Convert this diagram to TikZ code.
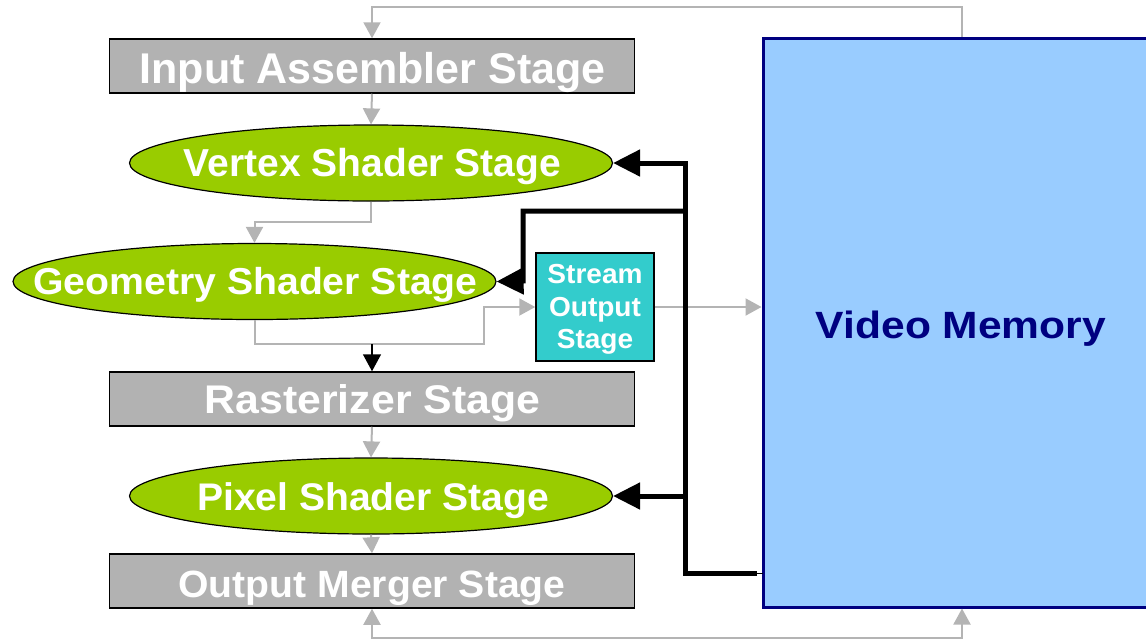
\documentclass[tikz,border=0pt]{standalone}
\usepackage{fontspec}
\setmainfont{Liberation Sans}
\usetikzlibrary{arrows.meta,shapes.geometric}
\definecolor{boxgray}{HTML}{B2B2B2}
\definecolor{linegray}{HTML}{B4B4B4}
\definecolor{shadergreen}{HTML}{99CC00}
\definecolor{streamteal}{HTML}{33CCCC}
\definecolor{memblue}{HTML}{99CCFF}
\definecolor{memnavy}{HTML}{000080}
% label text: size in pt, horizontal stretch, text
\newcommand{\stagetext}[3]{\fontsize{#1}{#1}\selectfont\scalebox{#2}[1]{#3}}
\tikzset{
  fixedstage/.style={draw=black, line width=1.5pt, fill=boxgray, rectangle,
    minimum width=525pt, minimum height=54pt, inner sep=0pt},
  shaderstage/.style={draw=black, line width=1.2pt, fill=shadergreen, ellipse,
    minimum width=483pt, minimum height=76pt, inner sep=0pt},
  streambox/.style={draw=black, line width=1.5pt, fill=streamteal, rectangle,
    minimum width=118pt, minimum height=108pt, inner sep=0pt},
  memorybox/.style={draw=memnavy, line width=3pt, fill=memblue, rectangle,
    minimum width=398pt, minimum height=569pt, inner sep=0pt},
  stagelabel/.style={anchor=base, inner sep=0pt, text=white, font=\bfseries},
  memlabel/.style={anchor=base, inner sep=0pt, text=memnavy, font=\bfseries},
  flow/.style={draw=linegray, line width=2pt, -{Triangle[length=16pt,width=17pt]}},
  flowboth/.style={draw=linegray, line width=2pt,
    {Triangle[length=16pt,width=17pt]}-{Triangle[length=16pt,width=17pt]}},
  flowplain/.style={draw=linegray, line width=2pt},
  bus/.style={draw=black, line width=5pt},
  busarrow/.style={draw=black, line width=5pt, -{Triangle[length=27pt,width=26pt]}},
  thinarrow/.style={draw=black, line width=1.5pt, -{Triangle[length=17pt,width=18pt]}}
}
\begin{document}
\begin{tikzpicture}[x=1pt,y=-1pt]
\useasboundingbox (0,0) rectangle (1146,641);
\clip (0,0) rectangle (1146,641);

% pipeline stages
\node[fixedstage] (ia) at (372,66) {};
\node[shaderstage] (vs) at (371,163) {};
\node[shaderstage] (gs) at (254.5,281.5) {};
\node[streambox] (so) at (595,307) {};
\node[fixedstage] (rs) at (372,399) {};
\node[shaderstage] (ps) at (371,496) {};
\node[fixedstage] (om) at (372,581) {};

% memory
\node[memorybox] (vm) at (962,322.5) {};

% stage names
\node[stagelabel] (ialbl) at (372.5,83) {\stagetext{43}{1.0}{Input Assembler Stage}};
\node[stagelabel] (vslbl) at (372.5,176) {\stagetext{39}{1.0}{Vertex Shader Stage}};
\node[stagelabel] (gslbl) at (255.5,294) {\stagetext{37.5}{1.045}{Geometry Shader Stage}};
\node[stagelabel] (solbla) at (595,283) {\stagetext{27.5}{1.02}{Stream}};
\node[stagelabel] (solblb) at (595,316.5) {\stagetext{27.5}{1.02}{Output}};
\node[stagelabel] (solblc) at (595,348.5) {\stagetext{27.5}{1.02}{Stage}};
\node[stagelabel] (rslbl) at (372.5,413.5) {\stagetext{40}{1.07}{Rasterizer Stage}};
\node[stagelabel] (pslbl) at (373,510) {\stagetext{38.5}{1.015}{Pixel Shader Stage}};
\node[stagelabel] (omlbl) at (372,597.5) {\stagetext{38}{1.03}{Output Merger Stage}};
\node[memlabel] (vmlbl) at (961,338) {\stagetext{38}{1.12}{Video Memory}};

% junction points
\coordinate (split) at (372,344);
\coordinate (tap) at (763,573);
\coordinate (busend) at (757,573);

% forward data flow
\draw[flow] (vm.north) |- (680,7) -| (ia.north);
\draw[flow] (ia.south) -- (vs.north);
\draw[flow] (vs.south) |- (300,222) -| (gs.north);
\draw[flowplain] (gs.south) |- (split);
\draw[flow] (split) -| (484,330) |- (so.west);
\draw[thinarrow] (split) -- (rs.north);
\draw[flow] (so.east) -- (so.east -| vm.west);
\draw[flow] (rs.south) -- (ps.north);
\draw[flow] (ps.south) -- (om.north);
\draw[flowboth] (om.south) |- (680,638) -| (vm.south);

% resource reads from memory
\draw[draw=black, line width=1pt] (tap) -- (busend);
\draw[bus] (busend) -| (685,211);
\draw[busarrow] (685,215) |- (vs.east);
\draw[busarrow] (685,211) -| (523,281) -- (gs.east);
\draw[busarrow] (685,496) -- (ps.east);
\end{tikzpicture}
\end{document}
